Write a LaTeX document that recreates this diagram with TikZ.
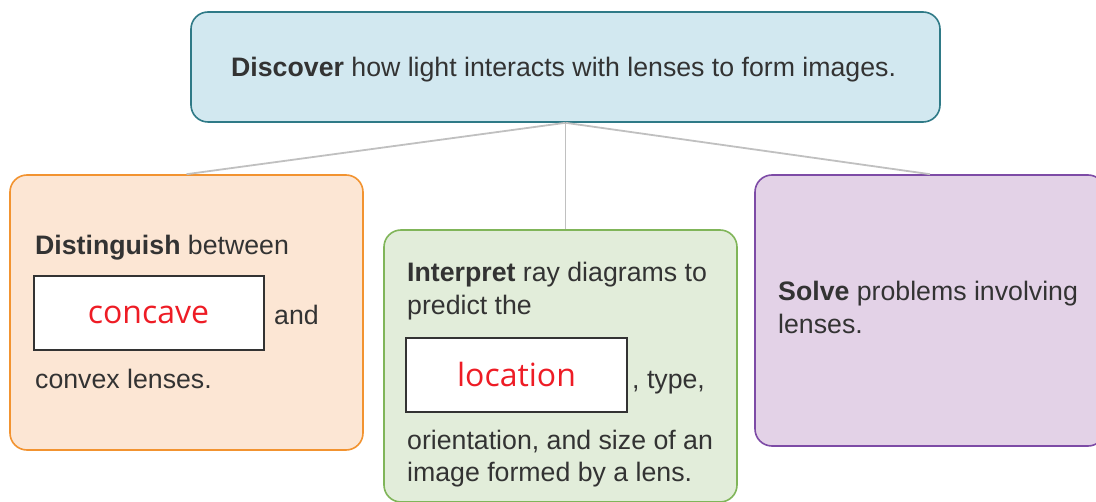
\documentclass[tikz,border=0pt]{standalone}
\usepackage{fontspec}
\setmainfont{Liberation Sans}
\newfontfamily\handfont{Open Sans}
\definecolor{txt}{HTML}{333333}
\definecolor{redtxt}{HTML}{EE1C25}
\definecolor{linegray}{HTML}{C0C0C0}
\definecolor{topfill}{HTML}{D2E8F0}
\definecolor{topdraw}{HTML}{2F7A87}
\definecolor{orfill}{HTML}{FCE6D4}
\definecolor{ordraw}{HTML}{F29330}
\definecolor{grfill}{HTML}{E2EDDA}
\definecolor{grdraw}{HTML}{80B559}
\definecolor{pufill}{HTML}{E3D2E7}
\definecolor{pudraw}{HTML}{7D4BA6}
\begin{document}
\begin{tikzpicture}[x=1pt,y=-1pt,
  card/.style={rectangle, rounded corners=17pt, line width=1.6pt, inner sep=0pt},
  gapbox/.style={rectangle, draw=txt, fill=white, line width=2pt, inner sep=0pt},
  body/.style={anchor=base west, inner sep=0pt, text=txt, font=\fontsize{26.7}{33}\selectfont},
  answer/.style={text=redtxt, font=\handfont\fontsize{32}{40}\selectfont, inner sep=0pt},
  link/.style={draw=linegray, line width=1.8pt}]
\useasboundingbox (0,0) rectangle (1096,502);
% cards
\node[card, fill=topfill, draw=topdraw, minimum width=749pt, minimum height=110pt] (top) at (565.5,67) {};
\node[card, fill=orfill, draw=ordraw, minimum width=353pt, minimum height=275pt] (left) at (186.5,312.5) {};
\node[card, fill=grfill, draw=grdraw, minimum width=353pt, minimum height=272pt] (mid) at (560.5,366) {};
\node[card, fill=pufill, draw=pudraw, minimum width=350pt, minimum height=271pt] (right) at (930,310.5) {};
% connectors
\draw[link] (top.south) -- (left.north);
\draw[link] (top.south) -- (top.south |- mid.north);
\draw[link] (top.south) -- (right.north);
% top text
\node[body] (ttop) at (231,77) {\textbf{Discover} how light interacts with lenses to form images.};
% left card
\node[body] (l1) at (35,255) {\textbf{Distinguish} between};
\node[gapbox, minimum width=230pt, minimum height=74pt] (lbox) at (148.5,313.5) {};
\node[answer] (lans) at ([yshift=-1.5pt]lbox.center) {concave};
\node[body] (l2) at (274,325) {and};
\node[body] (l3) at (35,389) {convex lenses.};
% middle card
\node[body] (m1) at (407,282) {\textbf{Interpret} ray diagrams to};
\node[body] (m2) at (407,315) {predict the};
\node[gapbox, minimum width=221pt, minimum height=74pt] (mbox) at (516.5,375) {};
\node[answer] (mans) at ([yshift=0pt]mbox.center) {location};
\node[body] (m3) at (632,389) {, type,};
\node[body] (m4) at (407,450) {orientation, and size of an};
\node[body] (m5) at (407,482) {image formed by a lens.};
% right card
\node[body] (r1) at (778,301) {\textbf{Solve} problems involving};
\node[body] (r2) at (778,334) {lenses.};
\end{tikzpicture}
\end{document}
